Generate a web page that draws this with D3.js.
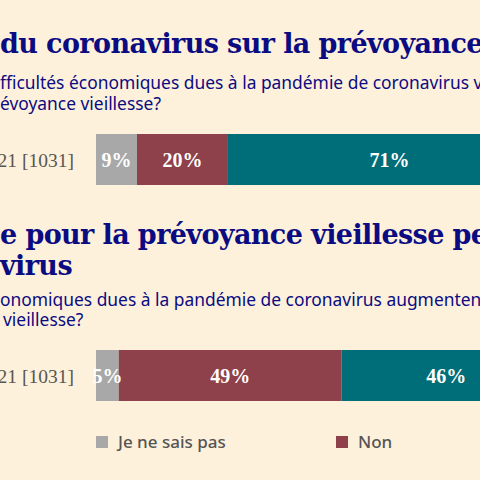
<!DOCTYPE html>
<html><head><meta charset="utf-8">
<script src="https://cdn.jsdelivr.net/npm/d3@7"></script>
<style>body{margin:0;background:#fdf1dc;}svg{display:block}</style>
</head><body>
<script>
const categories = ["Je ne sais pas", "Non", "Oui"];
const rowLabels = ["Mars 2021 [1031]", "Mars 2021 [1031]"];
const series1 = [9, 20, 71];
const series2 = [5, 49, 46];
const colors = ["#a8a8a8", "#8e414a", "#006e79"];

const W = 480, H = 480;
const svg = d3.select("body").append("svg").attr("width", W).attr("height", H);
svg.append("rect").attr("width", W).attr("height", H).attr("fill", "#fdf1dc");
const x = d3.scaleLinear().domain([0, 100]).range([96, 551]);
const serif = "'DejaVu Serif',serif";
const sans = "'Noto Sans','Open Sans',sans-serif";
const navy = "#0b0b82";

function title(t, y){svg.append("text").attr("x",0).attr("y",y).text(t)
  .attr("font-family",serif).attr("font-weight","bold").attr("font-size",27).attr("letter-spacing",-0.6).attr("fill",navy);}
function sub(t, xx, y){svg.append("text").attr("x",xx).attr("y",y).text(t)
  .attr("font-family",sans).attr("font-size",17.4).attr("fill",navy);}

title("du coronavirus sur la prévoyance vieillesse", 53);
sub("fficultés économiques dues à la pandémie de coronavirus vont-elles", 0, 89);
sub("évoyance vieillesse?", 0, 110);
title("e pour la prévoyance vieillesse personnelle", 244);
title("virus", 275);
sub("onomiques dues à la pandémie de coronavirus augmentent-elles", 0, 306);
sub("vieillesse?", 3, 326);

function bar(vals, label, y0){
  const h = 51;
  let cum = 0;
  const segs = vals.map(v => { const s = {a:cum, v}; cum += v; return s; });
  const g = svg.append("g");
  g.selectAll("rect").data(segs).join("rect")
    .attr("x", d => x(d.a)).attr("width", d => x(d.a + d.v) - x(d.a))
    .attr("y", y0).attr("height", h).attr("fill", (d,i) => colors[i]);
  g.selectAll("text").data(segs).join("text")
    .attr("x", d => x(d.a + d.v/2)).attr("y", y0 + h/2 + 7)
    .attr("text-anchor","middle").attr("fill","#fff")
    .attr("font-family","'Liberation Serif',serif").attr("font-weight","bold").attr("font-size",20)
    .text(d => d.v + "%");
  svg.append("text").attr("x",74).attr("y",y0+h/2+7).attr("text-anchor","end")
    .attr("font-family","'Liberation Serif',serif").attr("font-size",19.5).attr("fill","#5a5550").text(label);
}
bar(series1, rowLabels[0], 134);
bar(series2, rowLabels[1], 350);

const legX = [96, 336, 576];
categories.forEach((c,i)=>{
  svg.append("rect").attr("x",legX[i]).attr("y",436).attr("width",12).attr("height",12).attr("fill",colors[i]);
  svg.append("text").attr("x",legX[i]+22).attr("y",448).text(c)
    .attr("font-family",sans).attr("font-size",17).attr("font-weight",500).attr("fill","#555");
});
</script>
</body></html>
